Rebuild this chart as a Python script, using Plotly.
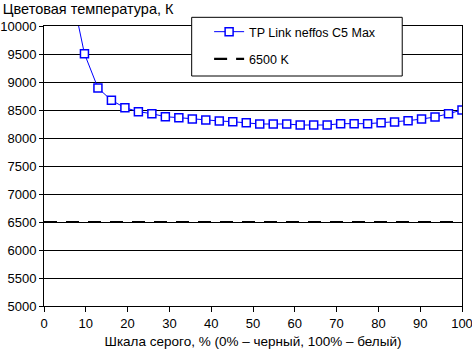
import plotly.graph_objects as go

# gray-scale steps (32 levels, 0..100 %)
step_index = list(range(2, 32))
gray_pct = [i * 100 / 31 for i in step_index]
color_temp = [10650, 9505, 8893, 8673, 8541, 8470, 8434, 8380, 8363, 8339,
              8321, 8304, 8291, 8273, 8250, 8250, 8250, 8232, 8232, 8232,
              8256, 8256, 8256, 8273, 8286, 8309, 8339, 8375, 8434, 8500]
ref_x = [0, 100]
ref_y = [6500, 6500]

series_name = "TP Link neffos C5 Max"
ref_name = "6500 K"
y_title = "Цветовая температура, К"
x_title = "Шкала серого, % (0% – черный, 100% – белый)"

FONT = "Liberation Sans, Arial, sans-serif"

fig = go.Figure()
fig.add_trace(go.Scatter(
    x=ref_x, y=ref_y, mode="lines", name=ref_name,
    line=dict(color="black", width=2.2, dash="13px,9px"),
    legendgroup="b", legendrank=2,
))
fig.add_trace(go.Scatter(
    x=gray_pct, y=color_temp, mode="lines+markers", name=series_name,
    line=dict(color="#0000ff", width=1),
    marker=dict(symbol="square", size=8, color="white",
                line=dict(color="#0000ff", width=1.5)),
    cliponaxis=True, legendgroup="a", legendrank=1,
))

fig.update_layout(
    width=472, height=349,
    margin=dict(l=44, r=10, t=26, b=43, autoexpand=False),
    paper_bgcolor="white", plot_bgcolor="white",
    font=dict(family=FONT, size=13, color="black"),
    showlegend=True,
    title=dict(text=y_title, xref="container", yref="container",
               x=0.006, y=0.975, xanchor="left", yanchor="middle",
               font=dict(family=FONT, size=14.5, color="black"),
               automargin=False),
    legend=dict(x=0.395, y=1.032, xanchor="left", yanchor="top",
                bgcolor="rgba(0,0,0,0)", borderwidth=0,
                traceorder="grouped", tracegroupgap=8,
                font=dict(family=FONT, size=12.5, color="black")),
    shapes=[dict(type="rect", xref="paper", yref="paper",
                 x0=0.3533, x1=0.857, y0=0.8214, y1=1.031,
                 fillcolor="white", line=dict(color="black", width=1),
                 layer="above")],
)
fig.update_xaxes(
    range=[0, 100], dtick=10, tick0=0, tickformat="d",
    showgrid=False, zeroline=False, automargin=False,
    ticklabeloverflow="allow",
    showline=True, linecolor="black", linewidth=1, mirror=True,
    ticks="outside", ticklen=5, tickcolor="black", tickwidth=1,
    tickfont=dict(family=FONT, size=13),
    title=dict(text=x_title, standoff=6, font=dict(family=FONT, size=13.5)),
)
fig.update_yaxes(
    range=[5000, 10000], dtick=500, tick0=5000, tickformat="d",
    showgrid=True, gridcolor="black", gridwidth=1, zeroline=False,
    automargin=False, ticklabeloverflow="allow",
    showline=True, linecolor="black", linewidth=1, mirror=True,
    ticks="outside", ticklen=4, tickcolor="black", tickwidth=1,
    tickfont=dict(family=FONT, size=13),
)

fig.write_html("out.html")
